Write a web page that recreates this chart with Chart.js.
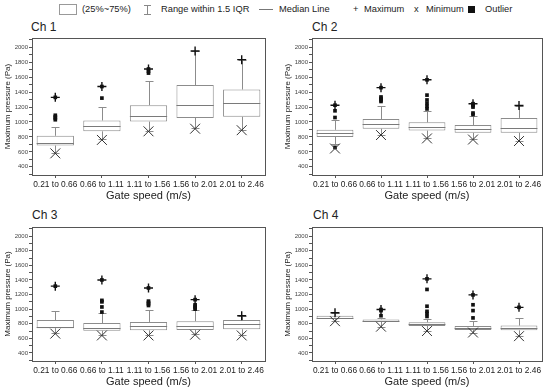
<!DOCTYPE html>
<html>
<head>
<meta charset="utf-8">
<script src="https://cdn.jsdelivr.net/npm/chart.js@4.4.0/dist/chart.umd.min.js"></script>
<style>
  body { margin: 0; background: #fff; font-family: "Liberation Sans", Arial, sans-serif; }
  #page { position: relative; width: 550px; height: 390px; overflow: hidden; }
  canvas { position: absolute; }
  .t { position: absolute; color: #222; white-space: nowrap; }
  .lg { font-size: 9.3px; top: 3px; line-height: 12px; }
  .ch { font-size: 12px; line-height: 14px; }
  .mk { position: absolute; }
</style>
</head>
<body>
<div id="page">
  <!-- legend -->
  <div class="mk" style="left:59px;top:4px;width:16px;height:9px;border:1px solid #999"></div>
  <span class="t lg" style="left:82px">(25%~75%)</span>
  <div class="mk" style="left:147px;top:5px;width:1px;height:9px;background:#888"></div>
  <div class="mk" style="left:144px;top:5px;width:7px;height:1px;background:#888"></div>
  <div class="mk" style="left:144px;top:14px;width:7px;height:1px;background:#888"></div>
  <span class="t lg" style="left:161px">Range within 1.5 IQR</span>
  <div class="mk" style="left:259px;top:9px;width:14px;height:1px;background:#777"></div>
  <span class="t lg" style="left:279px">Median Line</span>
  <span class="t lg" style="left:353px">+</span>
  <span class="t lg" style="left:364px">Maximum</span>
  <span class="t lg" style="left:414px">x</span>
  <span class="t lg" style="left:426px">Minimum</span>
  <div class="mk" style="left:468px;top:6px;width:7px;height:7px;background:#111"></div>
  <span class="t lg" style="left:485px">Outlier</span>

  <span class="t ch" style="left:31px;top:20px">Ch 1</span>
  <span class="t ch" style="left:312px;top:20px">Ch 2</span>
  <span class="t ch" style="left:32px;top:208px">Ch 3</span>
  <span class="t ch" style="left:313px;top:208px">Ch 4</span>

  <canvas id="ch1" width="273" height="173" style="left:0px;top:30px"></canvas>
  <canvas id="ch2" width="270" height="173" style="left:280px;top:30px"></canvas>
  <canvas id="ch3" width="273" height="170" style="left:0px;top:219px"></canvas>
  <canvas id="ch4" width="270" height="170" style="left:280px;top:219px"></canvas>
</div>
<script>
const speeds = ['0.21 to 0.66', '0.66 to 1.11', '1.11 to 1.56', '1.56 to 2.01', '2.01 to 2.46'];
const yTicks = [400, 600, 800, 1000, 1200, 1400, 1600, 1800, 2000];

// Ch 1
const ch1Q1 = [685, 875, 1005, 1055, 1070];
const ch1Median = [725, 940, 1085, 1230, 1250];
const ch1Q3 = [815, 1020, 1225, 1495, 1435];
const ch1WhiskerLow = [590, 770, 880, 915, 895];
const ch1WhiskerHigh = [935, 1200, 1555, 1950, 1835];
const ch1Max = [1330, 1475, 1710, 1950, 1835];
const ch1Min = [580, 760, 875, 910, 890];
const ch1Outliers = [[1030, 1050, 1070, 1090, 1330], [1320, 1475], [1655, 1680, 1710], [], []];

// Ch 2
const ch2Q1 = [800, 910, 885, 855, 855];
const ch2Median = [855, 970, 930, 905, 915];
const ch2Q3 = [895, 1040, 995, 960, 1055];
const ch2WhiskerLow = [700, 830, 780, 770, 745];
const ch2WhiskerHigh = [1030, 1210, 1150, 1075, 1220];
const ch2Max = [1225, 1460, 1565, 1245, 1220];
const ch2Min = [645, 825, 780, 765, 745];
const ch2Outliers = [[660, 1060, 1150, 1225], [1275, 1295, 1315, 1335, 1460], [1175, 1210, 1250, 1295, 1360, 1565], [1100, 1120, 1200, 1220, 1235, 1245], []];

// Ch 3
const ch3Q1 = [740, 705, 710, 715, 725];
const ch3Median = [760, 745, 770, 765, 795];
const ch3Q3 = [850, 810, 825, 835, 850];
const ch3WhiskerLow = [670, 645, 640, 655, 640];
const ch3WhiskerHigh = [975, 950, 985, 990, 910];
const ch3Max = [1315, 1400, 1290, 1130, 910];
const ch3Min = [665, 640, 640, 650, 640];
const ch3Outliers = [[1315], [960, 1030, 1100, 1120, 1400], [1050, 1070, 1090, 1110, 1290], [1000, 1020, 1040, 1060, 1130], []];

// Ch 4
const ch4Q1 = [865, 825, 770, 715, 710];
const ch4Median = [885, 840, 795, 740, 740];
const ch4Q3 = [910, 860, 820, 770, 775];
const ch4WhiskerLow = [840, 760, 700, 680, 630];
const ch4WhiskerHigh = [950, 880, 870, 840, 880];
const ch4Max = [950, 995, 1415, 1195, 1025];
const ch4Min = [835, 760, 700, 680, 630];
const ch4Outliers = [[], [910, 980, 995], [900, 940, 970, 1040, 1270, 1415], [880, 980, 1060, 1195], [1025]];

const FONT = '"Liberation Sans", Arial, sans-serif';

// whiskers behind the boxes, median on top of them, frame round the plot
const boxParts = {
  id: 'boxParts',
  beforeDatasetsDraw(chart, args, opts) {
    const { ctx, scales: { x, y } } = chart;
    ctx.save();
    ctx.strokeStyle = '#8c8c8c';
    ctx.lineWidth = 1;
    opts.whiskerHigh.forEach((hi, i) => {
      const px = Math.round(x.getPixelForValue(i)) + 0.5;
      const top = Math.round(y.getPixelForValue(hi)) + 0.5;
      const bot = Math.round(y.getPixelForValue(opts.whiskerLow[i])) + 0.5;
      ctx.beginPath();
      ctx.moveTo(px, y.getPixelForValue(opts.q3[i]));
      ctx.lineTo(px, top);
      ctx.moveTo(px - 4, top);
      ctx.lineTo(px + 4, top);
      ctx.moveTo(px, y.getPixelForValue(opts.q1[i]));
      ctx.lineTo(px, bot);
      ctx.moveTo(px - 4, bot);
      ctx.lineTo(px + 4, bot);
      ctx.stroke();
    });
    ctx.restore();
  },
  afterDatasetDraw(chart, args, opts) {
    if (args.index !== 0) return;
    const { ctx, scales: { y } } = chart;
    const bars = chart.getDatasetMeta(0).data;
    ctx.save();
    ctx.strokeStyle = '#7a7a7a';
    ctx.lineWidth = 1;
    opts.median.forEach((m, i) => {
      const py = Math.round(y.getPixelForValue(m)) + 0.5;
      ctx.beginPath();
      ctx.moveTo(bars[i].x - bars[i].width / 2, py);
      ctx.lineTo(bars[i].x + bars[i].width / 2, py);
      ctx.stroke();
    });
    ctx.restore();
  },
  afterDraw(chart) {
    const { ctx, chartArea: a } = chart;
    ctx.save();
    ctx.strokeStyle = '#555';
    ctx.lineWidth = 1;
    ctx.strokeRect(Math.round(a.left) + 0.5, Math.round(a.top) + 0.5, Math.round(a.right - a.left), Math.round(a.bottom - a.top));
    ctx.restore();
  }
};

function boxChart(id, q1, median, q3, whiskerLow, whiskerHigh, maxVals, minVals, outliers) {
  const outlierPoints = [];
  outliers.forEach((list, i) => list.forEach(v => outlierPoints.push({ x: speeds[i], y: v })));

  return new Chart(document.getElementById(id), {
    type: 'bar',
    data: {
      labels: speeds,
      datasets: [
        {
          type: 'bar',
          data: q1.map((v, i) => [v, q3[i]]),
          backgroundColor: '#fff',
          borderColor: '#8c8c8c',
          borderWidth: 1,
          borderSkipped: false,
          barPercentage: 0.8,
          categoryPercentage: 1,
          order: 10
        },
        {
          type: 'line',
          data: outlierPoints,
          showLine: false,
          pointStyle: 'rect',
          pointRadius: 2.6,
          backgroundColor: '#111',
          borderColor: '#111',
          borderWidth: 0,
          order: 2
        },
        {
          type: 'line',
          data: minVals,
          showLine: false,
          pointStyle: 'crossRot',
          pointRadius: 7,
          borderColor: '#333',
          borderWidth: 1,
          order: 1
        },
        {
          type: 'line',
          data: maxVals,
          showLine: false,
          pointStyle: 'cross',
          pointRadius: 4.5,
          borderColor: '#111',
          borderWidth: 1.4,
          order: 0
        }
      ]
    },
    options: {
      responsive: false,
      animation: false,
      layout: { padding: { left: 0, top: 3, right: 4, bottom: 0 } },
      plugins: {
        legend: { display: false },
        tooltip: { enabled: false },
        boxParts: { q1, median, q3, whiskerLow, whiskerHigh }
      },
      scales: {
        x: {
          grid: { display: true, drawOnChartArea: false, drawTicks: true, tickLength: 3, offset: false, color: '#555' },
          border: { display: true, color: '#555' },
          ticks: { font: { size: 8.4, family: FONT }, color: '#222', padding: 2, maxRotation: 0, autoSkip: false },
          title: { display: true, text: 'Gate speed (m/s)', font: { size: 11, family: FONT }, color: '#222', padding: 0 },
          afterFit(scale) { scale.height = 28; }
        },
        y: {
          min: 290,
          max: 2125,
          grid: { display: true, drawOnChartArea: false, drawTicks: true, tickLength: 3, color: '#555' },
          border: { display: true, color: '#555' },
          ticks: {
            stepSize: 100,
            includeBounds: false,
            autoSkip: false,
            font: { size: 6, family: FONT },
            color: '#444',
            padding: 1,
            callback: v => yTicks.includes(v) ? v : ''
          },
          title: { display: true, text: 'Maximum pressure (Pa)', font: { size: 8, family: FONT }, color: '#222', padding: { top: 3, bottom: 0 } },
          afterFit(scale) { scale.width = 32; }
        }
      }
    },
    plugins: [boxParts]
  });
}

boxChart('ch1', ch1Q1, ch1Median, ch1Q3, ch1WhiskerLow, ch1WhiskerHigh, ch1Max, ch1Min, ch1Outliers);
boxChart('ch2', ch2Q1, ch2Median, ch2Q3, ch2WhiskerLow, ch2WhiskerHigh, ch2Max, ch2Min, ch2Outliers);
boxChart('ch3', ch3Q1, ch3Median, ch3Q3, ch3WhiskerLow, ch3WhiskerHigh, ch3Max, ch3Min, ch3Outliers);
boxChart('ch4', ch4Q1, ch4Median, ch4Q3, ch4WhiskerLow, ch4WhiskerHigh, ch4Max, ch4Min, ch4Outliers);
</script>
</body>
</html>
